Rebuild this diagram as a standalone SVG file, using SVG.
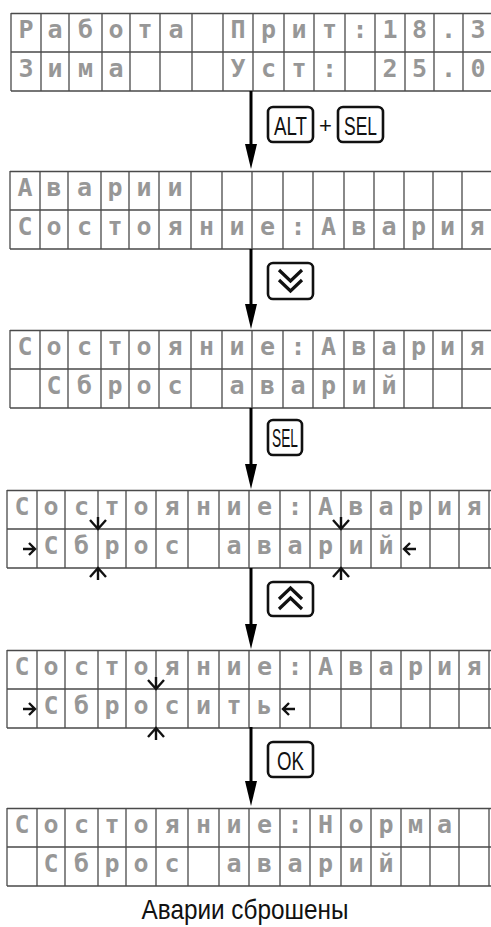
<svg xmlns="http://www.w3.org/2000/svg" width="491" height="927" viewBox="0 0 491 927">
<style>
.grid{fill:none;stroke:#4a4a4a;stroke-width:1.3}
.lcd{font-family:"DejaVu Sans Mono",monospace;font-size:25px;font-weight:bold;fill:url(#dots);text-anchor:middle}
.mk{fill:none;stroke:#111;stroke-width:2.4;stroke-linecap:butt}
.conn{stroke:#000;stroke-width:3;fill:none}
.head{fill:#000}
.key{fill:#fff;stroke:#111;stroke-width:2.6}
.kt{font-family:"Liberation Sans",Arial,sans-serif;font-size:26px;fill:#111;text-anchor:middle}
.ico{fill:none;stroke:#111;stroke-width:3.2;stroke-linejoin:miter}
.cap{font-family:"Liberation Sans",Arial,sans-serif;font-size:28px;fill:#111;text-anchor:middle}
</style>
<defs>
<pattern id="dots" width="2" height="2" patternUnits="userSpaceOnUse"><circle cx="1" cy="1" r="0.8" fill="#111"/></pattern>
<path id="gridp" class="grid" d="M0,0.5H500M0,39H500M0,78H500M0,0V78M30,0V78M58,0V78M91,0V78M119,0V78M149,0V78M181,0V78M212,0V78M242,0V78M273,0V78M303,0V78M334,0V78M364,0V78M394,0V78M423,0V78M452,0V78M482,0V78"/>
</defs>

<g id="display1" transform="translate(11,13)">
<use href="#gridp"/>
<text class="lcd" y="25" x="15 44 74.5 105 134 165">Работа</text>
<text class="lcd" y="25" x="227 257.5 288 318.5 349 379 408.5 437.5 467">Прит:18.3</text>
<text class="lcd" y="64" x="15 44 74.5 105">Зима</text>
<text class="lcd" y="64" x="227 257.5 288 318.5">Уст:</text>
<text class="lcd" y="64" x="379 408.5 437.5 467">25.0</text>
</g>

<g id="display2" transform="translate(10,171)">
<use href="#gridp"/>
<text class="lcd" y="25" x="15 44 74.5 105 134 165">Аварии</text>
<text class="lcd" y="64" x="15 44 74.5 105 134 165 196.5 227 257.5 288 318.5 349 379 408.5 437.5 467">Состояние:Авария</text>
</g>

<g id="display3" transform="translate(10,330)">
<use href="#gridp"/>
<text class="lcd" y="25" x="15 44 74.5 105 134 165 196.5 227 257.5 288 318.5 349 379 408.5 437.5 467">Состояние:Авария</text>
<text class="lcd" y="64" x="44 74.5 105 134 165">Сброс</text>
<text class="lcd" y="64" x="227 257.5 288 318.5 349 379">аварий</text>
</g>

<g id="display4" transform="translate(7,490)">
<use href="#gridp"/>
<text class="lcd" y="25" x="15 44 74.5 105 134 165 196.5 227 257.5 288 318.5 349 379 408.5 437.5 467">Состояние:Авария</text>
<text class="lcd" y="64" x="44 74.5 105 134 165">Сброс</text>
<text class="lcd" y="64" x="227 257.5 288 318.5 349 379">аварий</text>
<path class="mk" d="M83,30L91,39L99,30M91,27V39M83,87L91,78L99,87M91,90V78"/>
<path class="mk" d="M326,30L334,39L342,30M334,27V39M326,87L334,78L342,87M334,90V78"/>
<path class="mk" d="M16,59H28M22,53L28,59L22,65M409,59H397M403,53L397,59L403,65"/>
</g>

<g id="display5" transform="translate(7,650)">
<use href="#gridp"/>
<text class="lcd" y="25" x="15 44 74.5 105 134 165 196.5 227 257.5 288 318.5 349 379 408.5 437.5 467">Состояние:Авария</text>
<text class="lcd" y="64" x="44 74.5 105 134 165 196.5 227 257.5">Сбросить</text>
<path class="mk" d="M141,30L149,39L157,30M149,27V39M141,87L149,78L157,87M149,90V78"/>
<path class="mk" d="M16,59H28M22,53L28,59L22,65M288,59H276M282,53L276,59L282,65"/>
</g>

<g id="display6" transform="translate(7,808)">
<use href="#gridp"/>
<text class="lcd" y="25" x="15 44 74.5 105 134 165 196.5 227 257.5 288 318.5 349 379 408.5 437.5">Состояние:Норма</text>
<text class="lcd" y="64" x="44 74.5 105 134 165">Сброс</text>
<text class="lcd" y="64" x="227 257.5 288 318.5 349 379">аварий</text>
</g>

<g id="connectors">
<path class="conn" d="M251,91V146"/><path class="head" d="M245,144H257L251,169Z"/>
<path class="conn" d="M251,249V306"/><path class="head" d="M245,304H257L251,329Z"/>
<path class="conn" d="M251,408V466"/><path class="head" d="M245,464H257L251,489Z"/>
<path class="conn" d="M251,568V626"/><path class="head" d="M245,624H257L251,649Z"/>
<path class="conn" d="M251,727V783"/><path class="head" d="M245,781H257L251,806Z"/>
</g>

<g id="key-alt-sel">
<rect class="key" x="268" y="107" width="45" height="35" rx="5"/>
<text class="kt" x="290.5" y="134.5" textLength="33" lengthAdjust="spacingAndGlyphs">ALT</text>
<text class="kt" x="325.5" y="133" style="font-size:22px">+</text>
<rect class="key" x="338" y="107" width="45" height="35" rx="5"/>
<text class="kt" x="360.5" y="134.5" textLength="33" lengthAdjust="spacingAndGlyphs">SEL</text>
</g>
<g id="key-down">
<rect class="key" x="268" y="263" width="45" height="36" rx="5"/>
<path class="ico" d="M279,270L290.5,281L302,270M279,280L290.5,291L302,280"/>
</g>
<g id="key-sel">
<rect class="key" x="268" y="420" width="34" height="35" rx="5"/>
<text class="kt" x="285" y="447" textLength="26" lengthAdjust="spacingAndGlyphs" style="font-size:25px">SEL</text>
</g>
<g id="key-up">
<rect class="key" x="268" y="582" width="45" height="34" rx="5"/>
<path class="ico" d="M279,599L290.5,588L302,599M279,609L290.5,598L302,609"/>
</g>
<g id="key-ok">
<rect class="key" x="268" y="742" width="45" height="35" rx="5"/>
<text class="kt" x="290.5" y="770" textLength="27" lengthAdjust="spacingAndGlyphs">OK</text>
</g>

<text class="cap" x="245" y="919" textLength="207" lengthAdjust="spacingAndGlyphs">Аварии сброшены</text>
</svg>
